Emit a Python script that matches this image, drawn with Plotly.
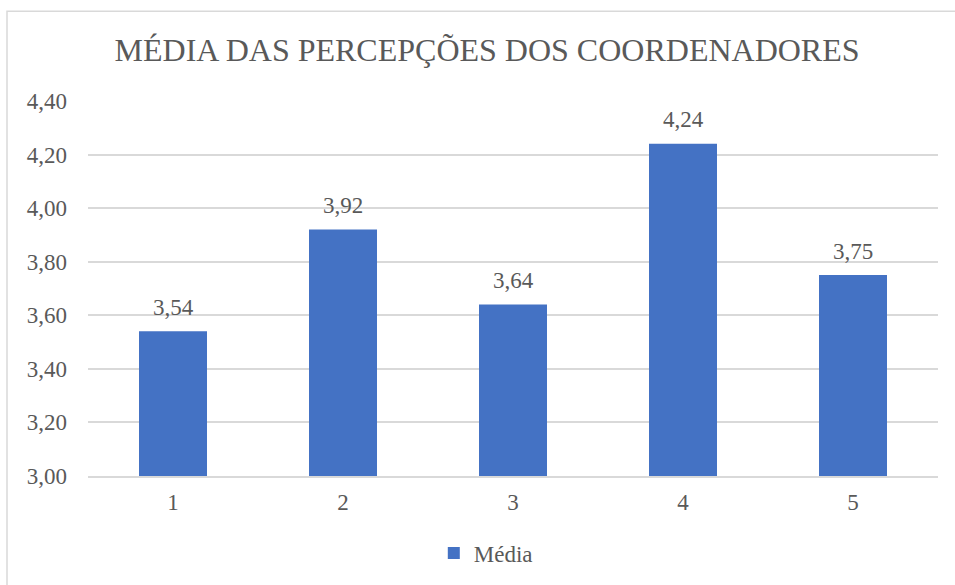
import plotly.graph_objects as go

categorias = ["1", "2", "3", "4", "5"]
medias = [3.54, 3.92, 3.64, 4.24, 3.75]
ticks_y = [3.0, 3.2, 3.4, 3.6, 3.8, 4.0, 4.2, 4.4]

cor_barra = "#4472C4"
cor_texto = "#595959"
cor_grade = "#D9D9D9"
fonte = "Liberation Serif"

fig = go.Figure()

fig.add_trace(
    go.Bar(
        x=categorias,
        y=medias,
        name="Média",
        marker=dict(color=cor_barra, line=dict(width=0)),
        cliponaxis=False,
    )
)

# rótulos de dados acima das barras (x = índice da categoria)
for i, v in enumerate(medias):
    fig.add_annotation(
        x=i,
        y=v,
        text=f"{v:.2f}".replace(".", ","),
        showarrow=False,
        yanchor="middle",
        yshift=24,
        font=dict(size=23, color=cor_texto, family=fonte),
    )

fig.update_layout(
    width=955,
    height=585,
    title=dict(
        text="MÉDIA DAS PERCEPÇÕES DOS COORDENADORES",
        x=0.51,
        xanchor="center",
        y=1 - 50 / 585,
        yanchor="middle",
        font=dict(size=32, color=cor_texto, family=fonte),
    ),
    separators=",.",
    font=dict(family=fonte, size=23, color=cor_texto),
    plot_bgcolor="white",
    paper_bgcolor="white",
    margin=dict(l=88, r=17, t=101, b=108),
    bargap=0.6,
    showlegend=True,
    legend=dict(
        orientation="h",
        x=0.468,
        xanchor="center",
        y=-0.202,
        yanchor="middle",
        font=dict(size=23, color=cor_texto, family=fonte),
    ),
    shapes=[
        dict(
            type="rect",
            xref="paper",
            yref="paper",
            x0=-0.0953,
            x1=2,
            y0=-1,
            y1=1.2394,
            line=dict(color=cor_grade, width=1.5),
            fillcolor="rgba(0,0,0,0)",
            layer="below",
        )
    ],
)

fig.update_yaxes(
    range=[3.0, 4.4],
    tickvals=ticks_y,
    tickformat=".2f",
    showgrid=True,
    gridcolor=cor_grade,
    gridwidth=1.5,
    zeroline=False,
    showline=False,
    ticklabelstandoff=20,
    tickfont=dict(size=23, color=cor_texto, family=fonte),
)

fig.update_xaxes(
    type="category",
    showgrid=False,
    showline=True,
    linecolor=cor_grade,
    linewidth=1.5,
    ticklabelstandoff=5,
    tickfont=dict(size=23, color=cor_texto, family=fonte),
)

fig.write_html(
    "out.html",
    config={"displayModeBar": False},
    post_script="document.body.style.margin='0';document.body.style.overflow='hidden';",
)
